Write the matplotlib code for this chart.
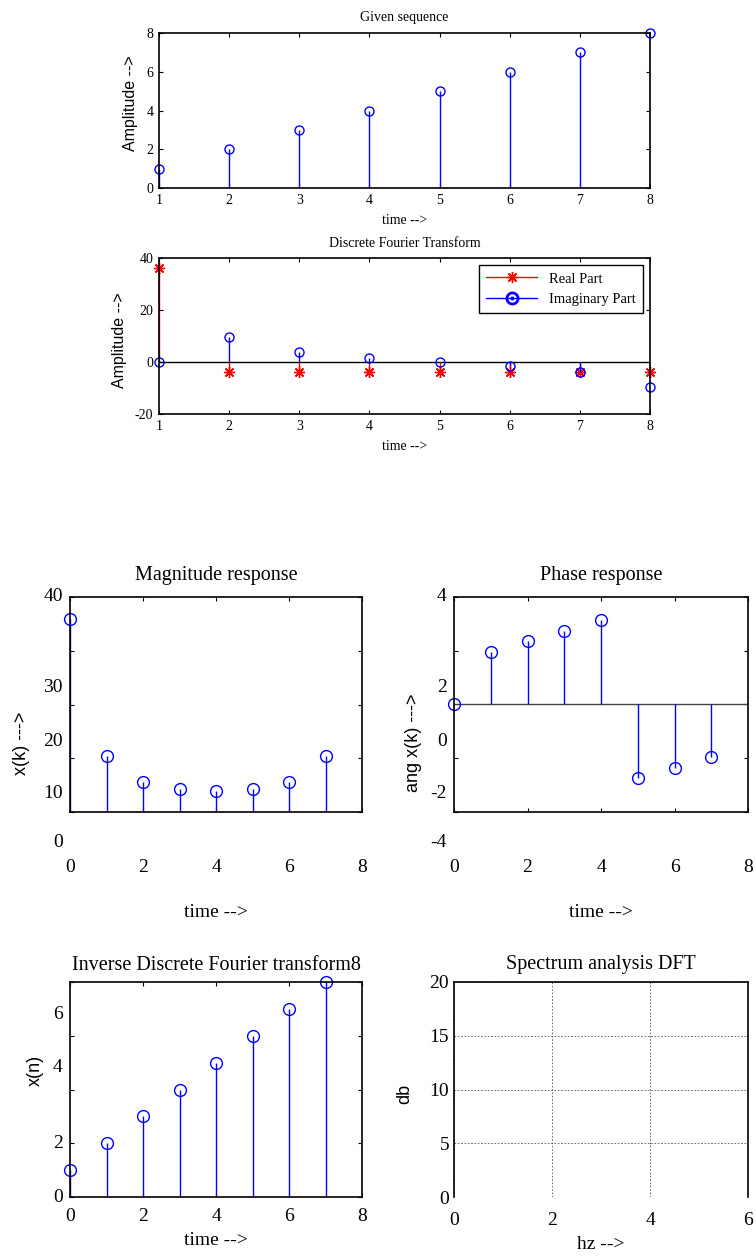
import numpy as np
import matplotlib.pyplot as plt
from matplotlib.lines import Line2D

# fonts: serif text like MATLAB figures, sans for y labels
SERIF = ["Liberation Serif", "DejaVu Serif"]
SANS = ["Liberation Sans", "DejaVu Sans"]
plt.rcParams["font.family"] = SERIF
plt.rcParams["axes.unicode_minus"] = False
plt.rcParams["xtick.direction"] = "in"
plt.rcParams["ytick.direction"] = "in"
plt.rcParams["xtick.top"] = True
plt.rcParams["ytick.right"] = True

# data
n_given = [1, 2, 3, 4, 5, 6, 7, 8]
x_given = [1, 2, 3, 4, 5, 6, 7, 8]

dft_real = [36, -4, -4, -4, -4, -4, -4, -4]
dft_imag = [0, 9.657, 4.0, 1.657, 0, -1.657, -4.0, -9.657]

k = [0, 1, 2, 3, 4, 5, 6, 7]
magnitude = [36, 10.453, 5.657, 4.330, 4, 4.330, 5.657, 10.453]
phase = [0, 1.963, 2.356, 2.749, 3.142, -2.749, -2.356, -1.963]
x_inverse = [1, 2, 3, 4, 5, 6, 7, 8]

mag_yticks = [0, 10, 20, 30, 40]
phase_yticks = [-4, -2, 0, 2, 4]
idft_yticks = [0, 2, 4, 6]

# label positions (axes fraction) as they appear in the reference
odd_label_pos = [-0.144, 0.088, 0.326, 0.581, 1.0]
idft_label_pos = [0.0, 0.251, 0.60, 0.851]

ASTERISK = (8, 2, 0)

fig = plt.figure(figsize=(7.56, 12.56), dpi=100)
W, H = 756, 1256


def axes_px(left, top, right, bottom):
    return fig.add_axes([left / W, 1 - bottom / H, (right - left) / W, (bottom - top) / H])


def stem_blue(ax, x, y, ms, base_on=False):
    ml, sl, bl = ax.stem(x, y, linefmt="b-", markerfmt="bo", basefmt="k-")
    ml.set_markerfacecolor("none")
    ml.set_markersize(ms)
    ml.set_markeredgewidth(1.0)
    ml.set_clip_on(False)
    sl.set_linewidth(1.0)
    bl.set_visible(base_on)
    return ml, sl, bl


def odd_yticklabels(ax, labels, positions, size):
    ax.set_yticklabels([])
    for lab, pos in zip(labels, positions):
        ax.text(-0.025, pos, lab, transform=ax.transAxes, ha="right", va="center",
                fontsize=size, family=SERIF)


# ---------- Given sequence ----------
ax1 = axes_px(159, 33, 650, 188)
stem_blue(ax1, n_given, x_given, 6.5)
ax1.set_xlim(1, 8)
ax1.set_ylim(0, 8)
ax1.set_xticks(n_given)
ax1.set_yticks([0, 2, 4, 6, 8])
ax1.tick_params(labelsize=10, length=3, pad=4)
ax1.set_title("Given sequence", fontsize=10, pad=9)
ax1.set_xlabel("time -->", fontsize=10, labelpad=5)
ax1.set_ylabel("Amplitude -->", fontsize=11.5, family=SANS)
ax1.yaxis.set_label_coords(-0.042, 0.55)

# ---------- Discrete Fourier Transform ----------
ax2 = axes_px(159, 258, 650, 414)
ax2.axhline(0, color="k", lw=1.0)
ml, sl, bl = ax2.stem(n_given, dft_real, linefmt="r-", markerfmt="r", basefmt="k-")
ml.set_marker(ASTERISK)
ml.set_markersize(8)
ml.set_markeredgewidth(1.0)
ml.set_clip_on(False)
sl.set_linewidth(1.0)
bl.set_visible(False)
stem_blue(ax2, n_given, dft_imag, 6.5)
ax2.set_xlim(1, 8)
ax2.set_ylim(-20, 40)
ax2.set_xticks(n_given)
ax2.set_yticks([-20, 0, 20, 40])
ax2.tick_params(labelsize=10, length=3, pad=4)
ax2.set_title("Discrete Fourier Transform", fontsize=10, pad=8)
ax2.set_xlabel("time -->", fontsize=10, labelpad=5)
ax2.set_ylabel("Amplitude -->", fontsize=11.5, family=SANS)
ax2.yaxis.set_label_coords(-0.066, 0.47)
handles = [Line2D([], [], color="red", marker=ASTERISK, markersize=8, lw=1),
           Line2D([], [], color="blue", marker=r"$\odot$", markersize=9, lw=1)]
leg = ax2.legend(handles, ["Real Part", "Imaginary Part"], loc="upper right",
                 bbox_to_anchor=(0.986, 0.955), borderaxespad=0, fontsize=10.5,
                 fancybox=False, framealpha=1, edgecolor="black", borderpad=0.5,
                 handlelength=3.5)
leg.get_frame().set_linewidth(1.0)

# ---------- Magnitude response ----------
ax3 = axes_px(70, 597, 362, 812)
stem_blue(ax3, k, magnitude, 8.5)
ax3.set_xlim(0, 8)
ax3.set_ylim(0, 40)
ax3.set_xticks([0, 2, 4, 6, 8])
ax3.set_yticks(mag_yticks)
ax3.tick_params(labelsize=14, length=3)
ax3.tick_params(axis="x", pad=34)
odd_yticklabels(ax3, [str(v) for v in mag_yticks], odd_label_pos, 14)
ax3.set_title("Magnitude response", fontsize=14.5, pad=12)
ax3.set_xlabel("time -->", fontsize=14, labelpad=20)
ax3.set_ylabel("x(k) --->", fontsize=13, family=SANS)
ax3.yaxis.set_label_coords(-0.137, 0.32)

# ---------- Phase response ----------
ax4 = axes_px(454, 597, 748, 812)
ax4.axhline(0, color="#444444", lw=1.0)
stem_blue(ax4, k, phase, 8.5)
ax4.set_xlim(0, 8)
ax4.set_ylim(-4, 4)
ax4.set_xticks([0, 2, 4, 6, 8])
ax4.set_yticks(phase_yticks)
ax4.tick_params(labelsize=14, length=3)
ax4.tick_params(axis="x", pad=34)
odd_yticklabels(ax4, [str(v) for v in phase_yticks], odd_label_pos, 14)
ax4.set_title("Phase response", fontsize=14.5, pad=12)
ax4.set_xlabel("time -->", fontsize=14, labelpad=20)
ax4.set_ylabel("ang x(k) --->", fontsize=13, family=SANS)
ax4.yaxis.set_label_coords(-0.11, 0.32)

# ---------- Inverse DFT ----------
ax5 = axes_px(70, 982, 362, 1197)
stem_blue(ax5, k, x_inverse, 8.5)
ax5.set_xlim(0, 8)
ax5.set_ylim(0, 8)
ax5.set_xticks([0, 2, 4, 6, 8])
ax5.set_yticks([0, 2, 4, 6, 8])
ax5.tick_params(labelsize=14, length=3)
ax5.tick_params(axis="x", pad=8)
ax5.set_yticklabels([])
for lab, pos in zip(idft_yticks, idft_label_pos):
    ax5.text(-0.025, pos, str(lab), transform=ax5.transAxes, ha="right", va="center",
             fontsize=14, family=SERIF)
ax5.set_title("Inverse Discrete Fourier transform8", fontsize=14.5, pad=9)
ax5.set_xlabel("time -->", fontsize=14, labelpad=5)
ax5.set_ylabel("x(n)", fontsize=13, family=SANS)
ax5.yaxis.set_label_coords(-0.09, 0.59)

# ---------- Spectrum analysis ----------
ax6 = axes_px(454, 982, 748, 1197)
ax6.set_xlim(0, 6)
ax6.set_ylim(0, 20)
ax6.set_xticks([0, 2, 4, 6])
ax6.set_yticks([0, 5, 10, 15, 20])
ax6.tick_params(labelsize=14, length=0)
ax6.tick_params(axis="x", pad=11)
ax6.grid(True, color="#555555", linestyle=(0, (2, 2)), linewidth=0.6)
ax6.spines["bottom"].set_visible(False)
ax6.set_title("Spectrum analysis DFT", fontsize=14.5, pad=9)
ax6.set_xlabel("hz -->", fontsize=14, labelpad=5)
ax6.set_ylabel("db", fontsize=13, family=SANS)
ax6.yaxis.set_label_coords(-0.14, 0.48)

for ax in [ax1, ax2, ax3, ax4, ax5, ax6]:
    for s in ax.spines.values():
        s.set_linewidth(1.2)

fig.savefig("out.png", dpi=100)
